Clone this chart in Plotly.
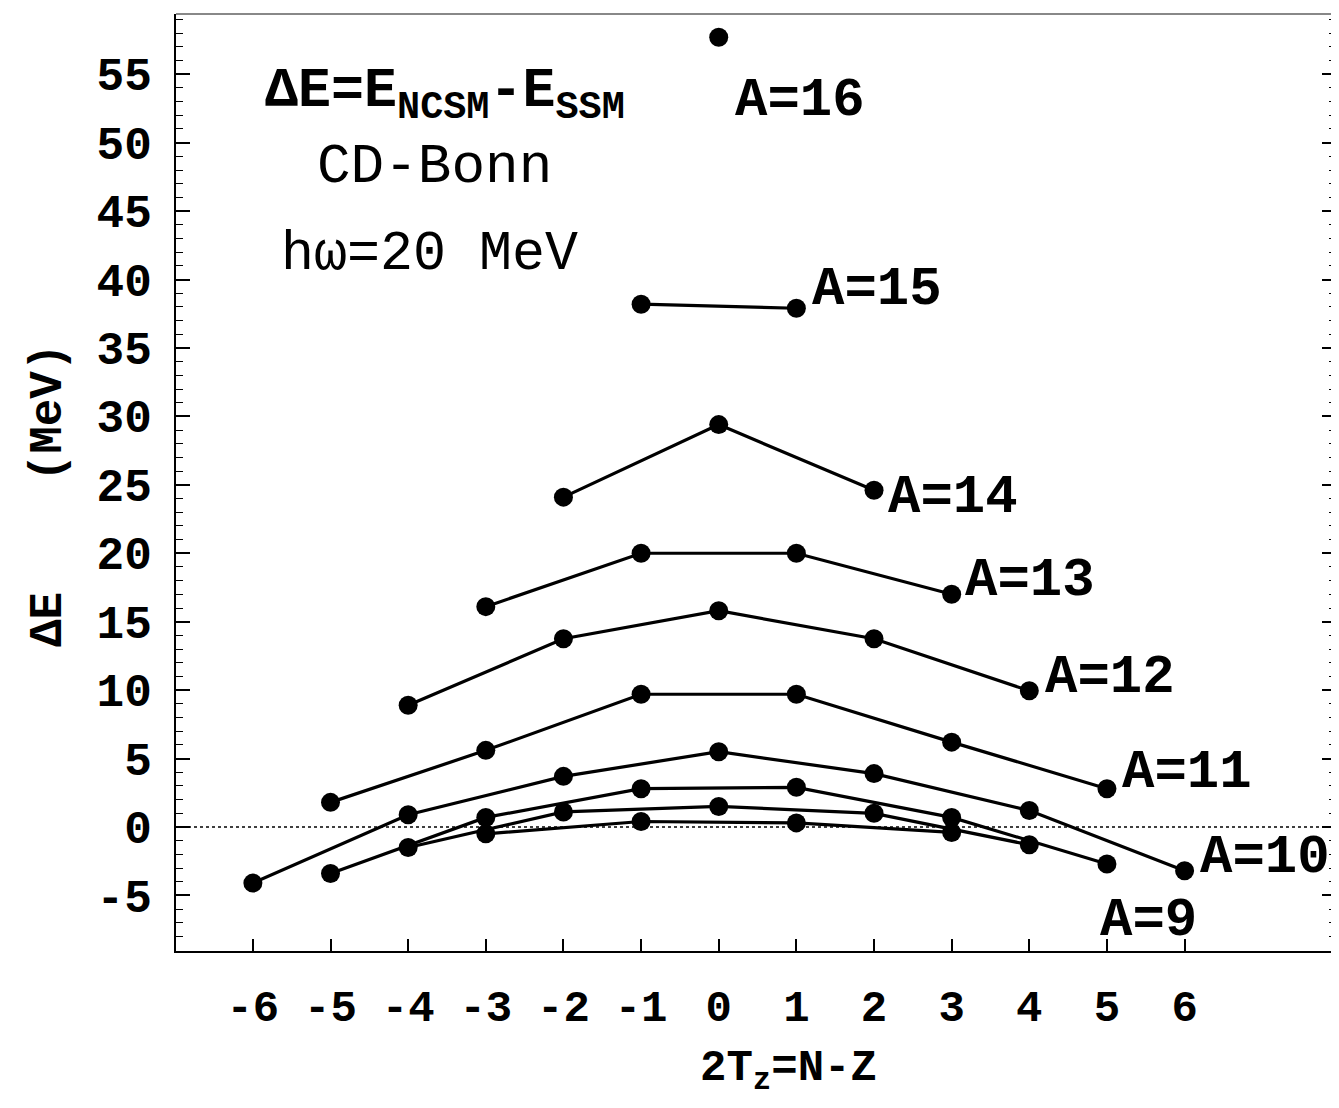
import plotly.graph_objects as go

# ---- data ----
x_A16 = [0]
y_A16 = [57.7]
x_A15 = [-1, 1]
y_A15 = [38.2, 37.9]
x_A14 = [-2, 0, 2]
y_A14 = [24.1, 29.4, 24.6]
x_A13 = [-3, -1, 1, 3]
y_A13 = [16.1, 20.0, 20.0, 17.0]
x_A12 = [-4, -2, 0, 2, 4]
y_A12 = [8.9, 13.75, 15.8, 13.75, 9.95]
x_A11 = [-5, -3, -1, 1, 3, 5]
y_A11 = [1.8, 5.6, 9.7, 9.7, 6.2, 2.8]
x_A10 = [-6, -4, -2, 0, 2, 4, 6]
y_A10 = [-4.1, 0.9, 3.7, 5.5, 3.9, 1.2, -3.2]
x_A9 = [-5, -3, -1, 1, 3, 5]
y_A9 = [-3.4, 0.7, 2.8, 2.9, 0.7, -2.7]
x_A8 = [-4, -2, 0, 2, 4]
y_A8 = [-1.5, 1.1, 1.5, 1.0, -1.3]
x_A7 = [-3, -1, 1, 3]
y_A7 = [-0.5, 0.4, 0.3, -0.4]

x_ticks = [-6, -5, -4, -3, -2, -1, 0, 1, 2, 3, 4, 5, 6]
y_ticks = [-5, 0, 5, 10, 15, 20, 25, 30, 35, 40, 45, 50, 55]

label_texts = ["A=16", "A=15", "A=14", "A=13", "A=12", "A=11", "A=10", "A=9"]

series = [
    (x_A16, y_A16), (x_A15, y_A15), (x_A14, y_A14), (x_A13, y_A13),
    (x_A12, y_A12), (x_A11, y_A11), (x_A10, y_A10), (x_A9, y_A9),
    (x_A8, y_A8), (x_A7, y_A7),
]

# ---- layout-only positions for labels ----
label_pos = [(0.19, 53.1), (1.18, 39.3), (2.16, 24.1), (3.15, 18.0),
             (4.18, 10.9), (5.17, 3.95), (6.17, -2.2), (4.89, -6.8)]

FONT = "Liberation Mono, Courier New, monospace"

fig = go.Figure()
for xs, ys in series:
    fig.add_trace(go.Scatter(
        x=xs, y=ys, mode="lines+markers",
        line=dict(color="black", width=3.2),
        marker=dict(color="black", size=19),
        showlegend=False, hoverinfo="skip"))

annotations = []
for txt, (lx, ly) in zip(label_texts, label_pos):
    annotations.append(dict(x=lx, y=ly, xref="x", yref="y", text="<b>" + txt + "</b>",
                            showarrow=False, xanchor="left", yanchor="middle",
                            font=dict(family=FONT, size=54, color="black")))

annotations += [
    dict(x=-5.87, y=53.5, xref="x", yref="y", xanchor="left", yanchor="middle",
         text="<b>ΔE=E<sub>NCSM</sub>-E<sub>SSM</sub></b>", showarrow=False,
         font=dict(family=FONT, size=55, color="black")),
    dict(x=-3.66, y=48.2, xref="x", yref="y", xanchor="center", yanchor="middle",
         text="CD-Bonn", showarrow=False,
         font=dict(family=FONT, size=56, color="black")),
    dict(x=-3.72, y=41.85, xref="x", yref="y", xanchor="center", yanchor="middle",
         text="hω=20 MeV", showarrow=False,
         font=dict(family=FONT, size=55, color="black")),
    dict(x=0.528, y=-0.128, xref="paper", yref="paper", xanchor="center", yanchor="middle",
         text="<b>2T<sub>z</sub>=N-Z</b>", showarrow=False,
         font=dict(family=FONT, size=44, color="black")),
    dict(x=-0.110, y=0.487, xref="paper", yref="paper", xanchor="center", yanchor="middle",
         text="<b>ΔE\u00a0\u00a0\u00a0\u00a0(MeV)</b>", textangle=-90, showarrow=False,
         font=dict(family=FONT, size=46, color="black")),
]

fig.update_layout(
    width=1331, height=1100,
    margin=dict(l=168, r=1, t=6, b=157),
    paper_bgcolor="white", plot_bgcolor="white",
    annotations=annotations,
    shapes=[
        dict(type="line", xref="paper", yref="y", x0=0, x1=1, y0=0, y1=0,
             line=dict(color="black", width=1.5, dash="dot"), layer="below"),
        dict(type="line", xref="paper", yref="paper", x0=0, x1=1, y0=1, y1=1,
             line=dict(color="#888888", width=2)),
    ],
    xaxis=dict(range=[-6.99, 7.95], tickvals=x_ticks, ticktext=["<b>%d</b>" % v for v in x_ticks],
               ticks="inside", ticklen=12, tickwidth=1.5, tickcolor="black",
               showline=True, linecolor="black", linewidth=2,
               showgrid=False, zeroline=False, ticklabelstandoff=15,
               tickfont=dict(family=FONT, size=44, color="black")),
    yaxis=dict(range=[-9.06, 59.4], tickvals=y_ticks, ticktext=["<b>%d</b>" % v for v in y_ticks],
               ticks="inside", ticklen=14, tickwidth=1.5, tickcolor="black",
               minor=dict(dtick=1, ticks="inside", ticklen=7, tickwidth=1, tickcolor="black"),
               showline=True, linecolor="black", linewidth=2, mirror="ticks",
               showgrid=False, zeroline=False, ticklabelstandoff=13,
               tickfont=dict(family=FONT, size=46, color="black")),
)

fig.write_html("out.html")
